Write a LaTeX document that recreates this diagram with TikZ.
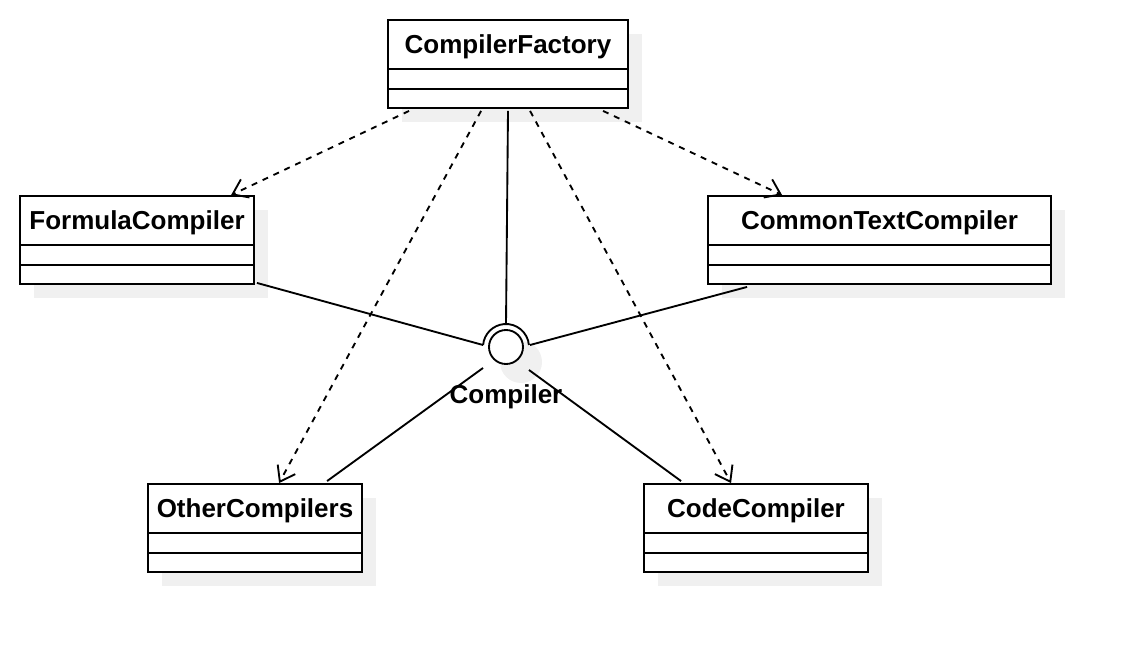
\documentclass[tikz,border=0pt]{standalone}
\usepackage{fontspec}
\setmainfont{Liberation Sans}
\usetikzlibrary{arrows.meta,calc,shadows}
\begin{document}
\begin{tikzpicture}[x=0.75pt,y=-0.75pt,
  classbox/.style={draw, line width=1.4pt, fill=white, minimum height=66pt, inner sep=0pt,
    drop shadow={shadow xshift=10.5pt, shadow yshift=-10.5pt, fill=black!6, opacity=1}},
  title/.style={font=\fontsize{19.5}{23}\selectfont\bfseries, inner sep=0pt},
  conn/.style={line width=1.4pt},
  dep/.style={line width=1.4pt, dash pattern=on 4.5pt off 4.5pt, -{Straight Barb[length=10.5pt,width=15pt]}}]
\useasboundingbox (0,0) rectangle (1130,652);

% classes
\node[classbox, minimum width=180pt] (cf) at (508,64) {};
\node[title] (cft) at ($(cf.north)+(0,28)$) {CompilerFactory};
\draw[conn] ($(cf.north west)+(0,50)$) -- ($(cf.north east)+(0,50)$);
\draw[conn] ($(cf.north west)+(0,70)$) -- ($(cf.north east)+(0,70)$);

\node[classbox, minimum width=175.5pt] (fc) at (137,240) {};
\node[title] (fct) at ($(fc.north)+(0,28)$) {FormulaCompiler};
\draw[conn] ($(fc.north west)+(0,50)$) -- ($(fc.north east)+(0,50)$);
\draw[conn] ($(fc.north west)+(0,70)$) -- ($(fc.north east)+(0,70)$);

\node[classbox, minimum width=257.25pt] (ct) at (879.5,240) {};
\node[title] (ctt) at ($(ct.north)+(0,28)$) {CommonTextCompiler};
\draw[conn] ($(ct.north west)+(0,50)$) -- ($(ct.north east)+(0,50)$);
\draw[conn] ($(ct.north west)+(0,70)$) -- ($(ct.north east)+(0,70)$);

\node[classbox, minimum width=160.5pt] (oc) at (255,528) {};
\node[title] (oct) at ($(oc.north)+(0,28)$) {OtherCompilers};
\draw[conn] ($(oc.north west)+(0,50)$) -- ($(oc.north east)+(0,50)$);
\draw[conn] ($(oc.north west)+(0,70)$) -- ($(oc.north east)+(0,70)$);

\node[classbox, minimum width=168pt] (cc) at (756,528) {};
\node[title] (cct) at ($(cc.north)+(0,28)$) {CodeCompiler};
\draw[conn] ($(cc.north west)+(0,50)$) -- ($(cc.north east)+(0,50)$);
\draw[conn] ($(cc.north west)+(0,70)$) -- ($(cc.north east)+(0,70)$);

% interface lollipop
\fill[black!6] (521,362) circle[radius=15.75pt];
\node[draw, circle, line width=1.4pt, minimum size=25.5pt, inner sep=0pt, fill=white] (iface) at (506,347) {};
\draw[conn] ([shift={(5:17.25pt)}]iface.center) arc[start angle=5, end angle=175, radius=17.25pt];
\coordinate (sock) at (506,324);
\node[title] (lbl) at (506,397) {Compiler};

% realization lines
\draw[conn] ($(cf.south)+(0,2)$) -- (sock);
\draw[conn] ($(fc.south east)+(2,-2)$) -- ($(iface.center)+(-23,-2)$);
\draw[conn] ($(ct.south west)+(40,2)$) -- ($(iface.center)+(24,-2)$);
\draw[conn] ($(oc.north west)+(180,-2)$) -- ($(iface.center)+(-23,21)$);
\draw[conn] ($(cc.north west)+(38,-2)$) -- ($(iface.center)+(23,23)$);

% dependencies
\draw[dep] ($(cf.south west)+(22,2)$) -- ($(fc.north west)+(212,0)$);
\draw[dep] ($(cf.south west)+(216,2)$) -- ($(ct.north west)+(75,0)$);
\draw[dep] ($(cf.south west)+(94,2)$) -- ($(oc.north west)+(132,0)$);
\draw[dep] ($(cf.south west)+(143,2)$) -- ($(cc.north west)+(88,0)$);
\end{tikzpicture}
\end{document}
